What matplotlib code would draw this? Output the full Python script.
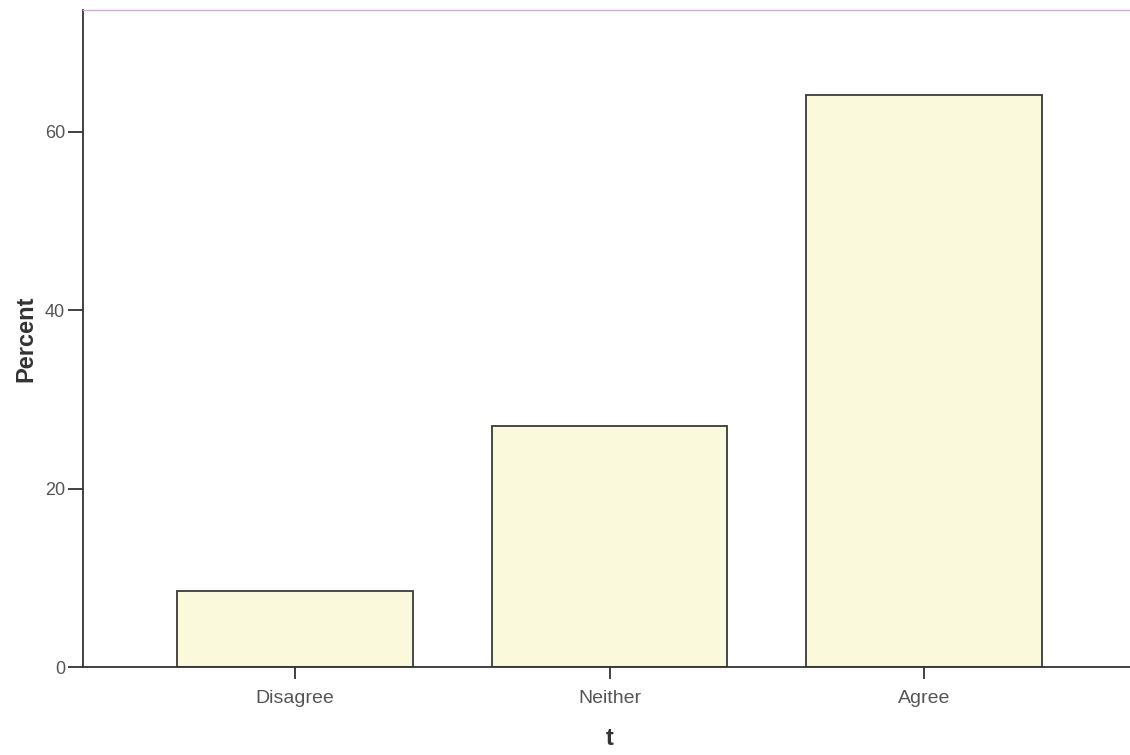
"""SPSS-style percent bar chart for variable t."""

import matplotlib.pyplot as plt
import numpy as np

plt.rcParams['font.family'] = ['Liberation Sans', 'DejaVu Sans']

categories = ['Disagree', 'Neither', 'Agree']
percent = [8.5, 27.0, 64.1]
y_ticks = [0, 20, 40, 60]

fig = plt.figure(figsize=(11.3, 7.55), dpi=100)
ax = fig.add_axes([0.0735, 0.1162, 0.9318, 0.8712])

x = np.arange(len(categories))
ax.bar(x, percent, width=0.75, color='#fbf9dc', edgecolor='#3a3a3a',
       linewidth=1.3, zorder=2)

ax.set_xlim(-0.674, 2.674)
ax.set_ylim(0, 73.7)

ax.set_xticks(x, categories)
ax.set_yticks(y_ticks)
ax.tick_params(axis='x', length=8.5, width=1.3, color='#333333',
               labelsize=14, labelcolor='#555555', pad=8)
ax.tick_params(axis='y', length=11, width=1.3, color='#333333',
               labelsize=13, labelcolor='#555555', pad=2)

ax.set_ylabel('Percent', fontsize=17, fontweight='bold', color='#333333',
              labelpad=5)
ax.set_xlabel('t', fontsize=17, fontweight='bold', color='#333333',
              labelpad=14)

# Axis frame: dark left/bottom, faint purple top
ax.spines['left'].set_color('#333333')
ax.spines['left'].set_linewidth(1.3)
ax.spines['bottom'].set_color('#333333')
ax.spines['bottom'].set_linewidth(1.3)
ax.spines['top'].set_color('#c9aed0')
ax.spines['top'].set_linewidth(1.0)
ax.spines['right'].set_visible(False)

fig.savefig('out.png', dpi=100)
